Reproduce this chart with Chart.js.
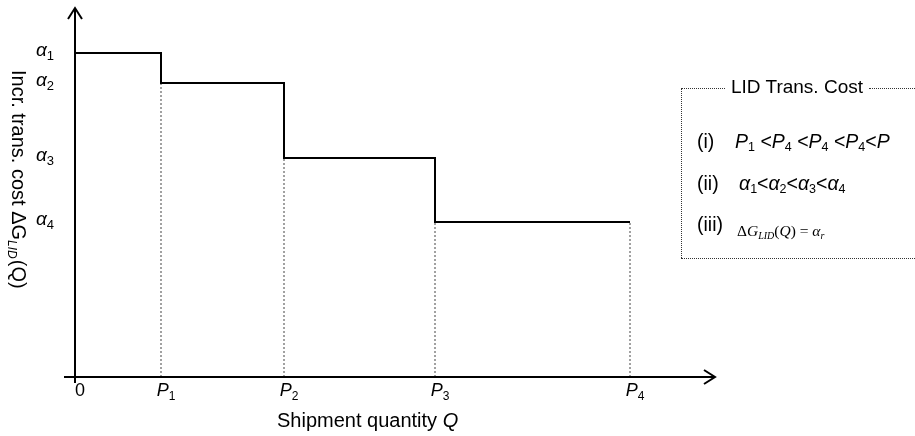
<!DOCTYPE html>
<html>
<head>
<meta charset="utf-8">
<script src="https://cdn.jsdelivr.net/npm/chart.js@4/dist/chart.umd.min.js"></script>
<style>
  html, body { margin: 0; padding: 0; background: #fff; }
  #wrap { position: relative; width: 915px; height: 436px; overflow: hidden; font-family: "Liberation Sans", Arial, sans-serif; color: #000; }
  #chart { position: absolute; left: 0; top: 0; }
  .dot { position: absolute; border-color: #333; border-style: dotted; border-width: 0; }
  .txt { position: absolute; white-space: nowrap; font-size: 19.5px; line-height: 20px; }
  .txt i { font-style: italic; }
  .txt sub { font-size: 12.5px; vertical-align: -3px; line-height: 0; }
  .serif { font-family: "Liberation Serif", "Times New Roman", serif; font-size: 15.5px; }
  .serif sub { font-size: 10px; vertical-align: -3px; }
</style>
</head>
<body>
<div id="wrap">
  <canvas id="chart" width="915" height="436"></canvas>

  <!-- cost-structure note box -->
  <div class="dot" style="left:681px; top:88px; width:44px; border-top-width:1px;"></div>
  <div class="dot" style="left:869px; top:88px; width:60px; border-top-width:1px;"></div>
  <div class="dot" style="left:681px; top:88px; height:170px; border-left-width:1px;"></div>
  <div class="dot" style="left:681px; top:258px; width:250px; border-top-width:1px;"></div>
  <div class="txt" style="left:731px; top:77px; font-size:19px;">LID Trans. Cost</div>

  <div class="txt" style="left:697px; top:131px;">(i)</div>
  <div class="txt" style="left:735px; top:131px;"><i>P</i><sub>1</sub> &lt;<i>P</i><sub>4</sub> &lt;<i>P</i><sub>4</sub> &lt;<i>P</i><sub>4</sub>&lt;<i>P</i></div>

  <div class="txt" style="left:697px; top:173px;">(ii)</div>
  <div class="txt" style="left:739px; top:173px;"><i>α</i><sub>1</sub>&lt;<i>α</i><sub>2</sub>&lt;<i>α</i><sub>3</sub>&lt;<i>α</i><sub>4</sub></div>

  <div class="txt" style="left:697px; top:214px;">(iii)</div>
  <div class="txt serif" style="left:737px; top:221px;">Δ<i>G</i><sub><i>LID</i></sub>(<i>Q</i>) = <i>α</i><sub><i>r</i></sub></div>
</div>

<script>
// Breakpoints of shipment quantity (0, P1..P4) and the cost level of each band
const quantities = [0, 86, 209, 360, 555];
const costLevels = [324, 294, 219, 155];

// Tick label parts: [main glyph, subscript]
const xTickLabels = [['0', ''], ['P', '1'], ['P', '2'], ['P', '3'], ['P', '4']];
const yTickLabels = [['α', '1'], ['α', '2'], ['α', '3'], ['α', '4']];

const xTitle = 'Shipment quantity ';
const xTitleVar = 'Q';
const yTitle = ['Incr. trans. cost ΔG', 'LID', '(Q)'];

const FONT = '"Liberation Sans", Arial, sans-serif';

// Step curve: each band holds its level until the next breakpoint
const stepPoints = quantities.map((q, i) => ({ x: q, y: costLevels[Math.min(i, costLevels.length - 1)] }));

// Dotted drop lines from each breakpoint down to the quantity axis
const dropLevels = quantities.slice(1).map((q, i) => costLevels[Math.min(i + 1, costLevels.length - 1)]);
const dropSets = quantities.slice(1).map((q, i) => ({
  data: [{ x: q, y: 0 }, { x: q, y: dropLevels[i] }],
  borderColor: '#444',
  borderWidth: 1,
  borderDash: [2, 2],
  pointRadius: 0,
  fill: false
}));

function drawLabel(ctx, parts, x, y, size, align, italicMain) {
  const mainFont = (italicMain ? 'italic ' : '') + size + 'px ' + FONT;
  const subFont = Math.round(size * 0.66) + 'px ' + FONT;
  ctx.font = mainFont;
  const w1 = ctx.measureText(parts[0]).width;
  ctx.font = subFont;
  const w2 = parts[1] ? ctx.measureText(parts[1]).width : 0;
  const total = w1 + w2;
  let left = x;
  if (align === 'center') left = x - total / 2;
  if (align === 'right') left = x - total;
  ctx.textAlign = 'left';
  ctx.textBaseline = 'alphabetic';
  ctx.font = mainFont;
  ctx.fillText(parts[0], left, y);
  if (parts[1]) {
    ctx.font = subFont;
    ctx.fillText(parts[1], left + w1, y + 4);
  }
}

const axesPlugin = {
  id: 'axesPlugin',
  afterDatasetsDraw(chart) {
    const ctx = chart.ctx;
    const xs = chart.scales.x, ys = chart.scales.y;
    const x0 = xs.getPixelForValue(0);
    const y0 = ys.getPixelForValue(0);
    ctx.save();
    ctx.strokeStyle = '#000';
    ctx.fillStyle = '#000';
    ctx.lineWidth = 2;
    ctx.lineCap = 'butt';

    // quantity axis with open arrowhead
    ctx.beginPath();
    ctx.moveTo(xs.left, y0);
    ctx.lineTo(xs.right, y0);
    ctx.stroke();
    ctx.beginPath();
    ctx.moveTo(xs.right - 11, y0 - 7);
    ctx.lineTo(xs.right, y0);
    ctx.lineTo(xs.right - 11, y0 + 7);
    ctx.stroke();

    // cost axis with open arrowhead
    ctx.beginPath();
    ctx.moveTo(x0, y0 + 6);
    ctx.lineTo(x0, ys.top);
    ctx.stroke();
    ctx.beginPath();
    ctx.moveTo(x0 - 7, ys.top + 11);
    ctx.lineTo(x0, ys.top);
    ctx.lineTo(x0 + 7, ys.top + 11);
    ctx.stroke();

    // quantity tick labels
    xs.ticks.forEach((t, i) => {
      const px = xs.getPixelForValue(t.value);
      const parts = xTickLabels[i];
      drawLabel(ctx, parts, px + 5, y0 + 19, 18, 'center', parts[0] !== '0');
    });

    // cost tick labels
    ys.ticks.forEach((t, i) => {
      const py = ys.getPixelForValue(t.value);
      drawLabel(ctx, yTickLabels[i], 54, py + 3, 19, 'right', true);
    });

    // quantity axis title
    ctx.textAlign = 'left';
    ctx.textBaseline = 'alphabetic';
    ctx.font = '20px ' + FONT;
    const tw = ctx.measureText(xTitle).width;
    ctx.fillText(xTitle, 277, 427);
    ctx.font = 'italic 20px ' + FONT;
    ctx.fillText(xTitleVar, 277 + tw, 427);

    // cost axis title, reading top to bottom
    ctx.translate(12, 70);
    ctx.rotate(Math.PI / 2);
    ctx.font = '20px ' + FONT;
    let cx = 0;
    ctx.fillText(yTitle[0], cx, 0);
    cx += ctx.measureText(yTitle[0]).width;
    ctx.font = 'italic 12px ' + FONT;
    ctx.fillText(yTitle[1], cx, 4);
    cx += ctx.measureText(yTitle[1]).width + 1;
    ctx.font = '20px ' + FONT;
    ctx.fillText(yTitle[2], cx, 0);
    ctx.restore();
  }
};

new Chart(document.getElementById('chart'), {
  type: 'line',
  data: {
    datasets: [
      {
        data: stepPoints,
        stepped: true,
        borderColor: '#000',
        borderWidth: 2,
        pointRadius: 0,
        fill: false
      },
      ...dropSets
    ]
  },
  options: {
    responsive: false,
    animation: false,
    events: [],
    layout: { padding: { top: 8, right: 200, left: 0, bottom: 0 } },
    plugins: { legend: { display: false }, tooltip: { enabled: false } },
    scales: {
      x: {
        type: 'linear',
        min: -11,
        max: 640,
        grid: { display: false },
        border: { display: false },
        ticks: { display: false },
        afterBuildTicks: s => { s.ticks = quantities.map(v => ({ value: v })); },
        afterFit: s => { s.height = 59; }
      },
      y: {
        type: 'linear',
        min: 0,
        max: 369,
        grid: { display: false },
        border: { display: false },
        ticks: { display: false },
        afterBuildTicks: s => { s.ticks = costLevels.map(v => ({ value: v })); },
        afterFit: s => { s.width = 64; }
      }
    }
  },
  plugins: [axesPlugin]
});
</script>
</body>
</html>
